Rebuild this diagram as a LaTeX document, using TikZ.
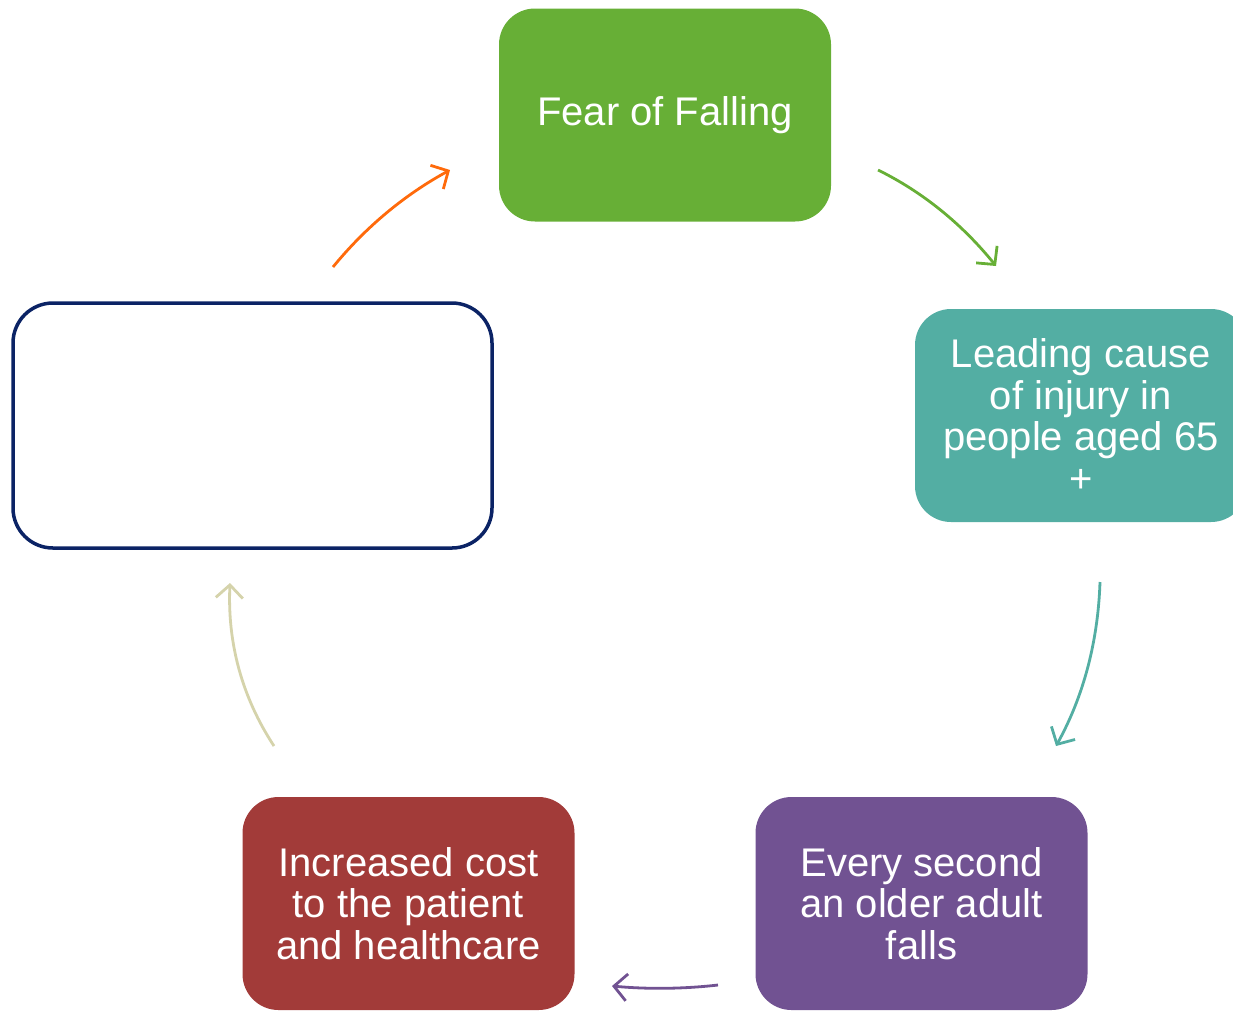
\documentclass[tikz,border=0pt]{standalone}
\usepackage{fontspec}
\setmainfont{Liberation Sans}
\usetikzlibrary{arrows.meta}
\definecolor{cgreen}{HTML}{67AF36}
\definecolor{cteal}{HTML}{53AEA3}
\definecolor{cpurple}{HTML}{715292}
\definecolor{cred}{HTML}{A23B39}
\definecolor{cnavy}{HTML}{0B2365}
\definecolor{corange}{HTML}{FF6A0B}
\definecolor{cbeige}{HTML}{D5D3AB}
\begin{document}
\begin{tikzpicture}[x=1pt,y=-1pt,
  box/.style={rectangle, rounded corners=36pt, minimum width=332pt, minimum height=213pt,
    inner sep=0pt, align=center, text=white,
    font=\fontsize{40}{41.5}\selectfont},
  conn/.style={line width=2.8pt, -{Straight Barb[length=13pt,width=27pt,line width=2.8pt]}}]
\useasboundingbox (0,0) rectangle (1233,1010);
\clip (0,0) rectangle (1233,1010);
\node[box, fill=cgreen] (fear) at (665,115) {Fear of Falling};
\node[box, fill=cteal] (lead) at (1081,415.5) {Leading cause\\of injury in\\people aged 65\\+};
\node[box, fill=cpurple] (every) at (921.5,903.5) {Every second\\an older adult\\falls};
\node[box, fill=cred] (cost) at (408.5,903.5) {Increased cost\\to the patient\\and healthcare};
\node[rectangle, rounded corners=40pt, draw=cnavy, line width=3.5pt, fill=white,
  minimum width=479pt, minimum height=245pt] (empty) at (252.5,425.5) {};
\coordinate (o1) at (333,267); \coordinate (o2) at (450,170);
\coordinate (g1) at (878,170); \coordinate (g2) at (996,266);
\coordinate (t1) at (1100,582); \coordinate (t2) at (1056,746);
\coordinate (p1) at (718,985); \coordinate (p2) at (612,986);
\coordinate (b1) at (274,746); \coordinate (b2) at (230,583);
\draw[conn, corange] (o1) .. controls (365.7,227) and (404.7,194.7) .. (o2);
\draw[conn, cgreen] (g1) .. controls (922.7,192) and (962,224) .. (g2);
\draw[conn, cteal] (t1) .. controls (1098,642) and (1083.3,696.7) .. (t2);
\draw[conn, cpurple] (p1) .. controls (682.7,989) and (647.3,989.3) .. (p2);
\draw[conn, cbeige] (b1) .. controls (242,697.3) and (227.3,643) .. (b2);
\end{tikzpicture}
\end{document}
